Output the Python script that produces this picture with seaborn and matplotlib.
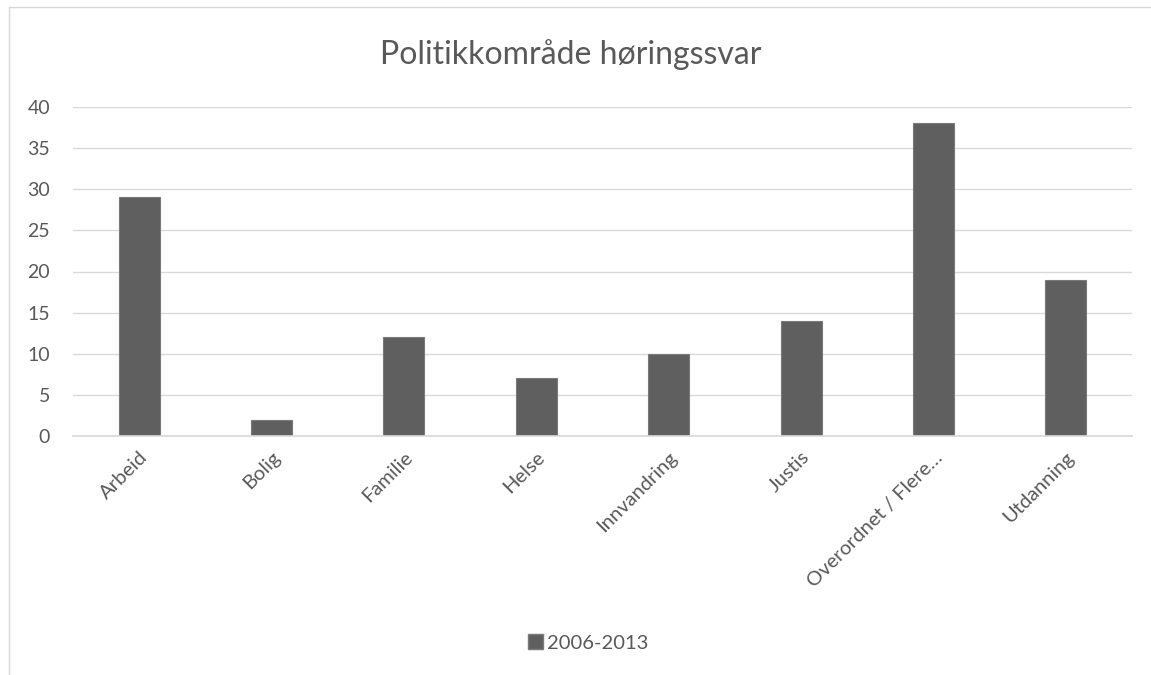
import pandas as pd
import seaborn as sns
import matplotlib.pyplot as plt
from matplotlib.patches import Patch
from matplotlib.lines import Line2D

# chart data
categories = ['Arbeid', 'Bolig', 'Familie', 'Helse', 'Innvandring', 'Justis',
              'Overordnet / Flere…', 'Utdanning']
values = [29, 2, 12, 7, 10, 14, 38, 19]
series_name = '2006-2013'

df = pd.DataFrame({'kategori': categories, 'antall': values})

sns.set_theme(style='white')
plt.rcParams['font.family'] = ['Lato', 'DejaVu Sans']
txt = '#595959'

fig = plt.figure(figsize=(11.51, 6.75), dpi=100)
ax = fig.add_axes([73 / 1151, 1 - 436 / 675, (1132 - 73) / 1151, (436 - 107) / 675])

sns.barplot(data=df, x='kategori', y='antall', color='#5f5f5f', width=0.31,
            edgecolor='#7a7a7a', linewidth=0.8, saturation=1, ax=ax)

ax.set_ylim(0, 40)
ax.set_xlim(-0.5, len(categories) - 0.5)
ax.set_yticks(range(0, 41, 5))
ax.yaxis.grid(True, color='#d9d9d9', linewidth=1)
ax.set_axisbelow(True)
for s in ['top', 'right', 'left']:
    ax.spines[s].set_visible(False)
ax.spines['bottom'].set_color('#d9d9d9')
ax.set_xlabel('')
ax.set_ylabel('')
ax.tick_params(axis='y', length=0, pad=16.5, labelsize=14, labelcolor=txt)
ax.tick_params(axis='x', length=0, pad=9, labelsize=14.5, labelcolor=txt)
plt.setp(ax.get_xticklabels(), rotation=45, ha='right', rotation_mode='anchor')

fig.text(571 / 1151, 1 - 55 / 675, 'Politikkområde høringssvar', ha='center',
         va='center', fontsize=23, color=txt)

leg = fig.legend(handles=[Patch(facecolor='#5f5f5f', edgecolor='#7a7a7a')],
                 labels=[series_name], loc='center', bbox_to_anchor=(588 / 1151, 1 - 643 / 675),
                 frameon=False, fontsize=14.5, handlelength=0.75, handleheight=0.75,
                 handletextpad=0.2, labelcolor=txt)

# outer chart border (left and top visible)
fig.add_artist(Line2D([9 / 1151, 9 / 1151], [0, 1 - 7 / 675], transform=fig.transFigure,
                      color='#d9d9d9', linewidth=1))
fig.add_artist(Line2D([9 / 1151, 1], [1 - 7 / 675, 1 - 7 / 675], transform=fig.transFigure,
                      color='#d9d9d9', linewidth=1))

fig.savefig('out.png', dpi=100, facecolor='white')
